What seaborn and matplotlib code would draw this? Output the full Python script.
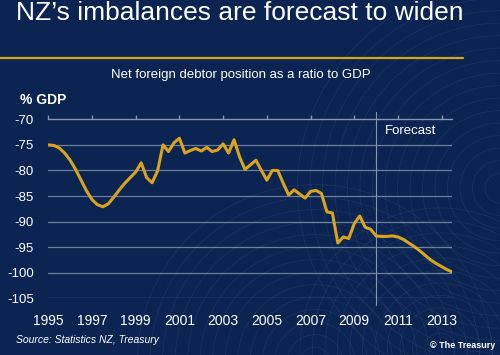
import numpy as np
import pandas as pd
import seaborn as sns
import matplotlib.pyplot as plt
from matplotlib.patches import Circle

# Quarterly net foreign debtor position, % of GDP (1995Q1 - 2013Q3)
quarters = np.arange(1995.0, 2013.51, 0.25)
debt_ratio = [
    -75.0, -75.1, -75.6, -76.6, -78.0, -79.8, -81.9, -84.0,
    -85.7, -86.7, -87.1, -86.5, -85.2, -83.8, -82.5, -81.4,
    -80.3, -78.5, -81.4, -82.4, -80.1, -75.0, -76.3, -74.6,
    -73.7, -76.6, -76.1, -75.7, -76.2, -75.5, -76.3, -76.0,
    -74.8, -76.6, -74.0, -77.3, -79.8, -78.9, -78.0, -80.0,
    -81.9, -80.0, -80.0, -82.5, -84.8, -83.8, -84.6, -85.4,
    -84.1, -83.9, -84.5, -88.1, -88.3, -94.2, -93.0, -93.3,
    -90.4, -88.9, -91.1, -91.5, -92.8, -92.9, -92.9, -92.8,
    -93.0, -93.5, -94.2, -94.9, -95.7, -96.6, -97.5, -98.2,
    -98.8, -99.4, -99.9,
]
year_ticks = [1995, 1997, 1999, 2001, 2003, 2005, 2007, 2009, 2011, 2013]
pct_ticks = [-70, -75, -80, -85, -90, -95, -100, -105]
forecast_start = 2010.0

df = pd.DataFrame({"year": quarters, "pct": debt_ratio})

bg = "#0b2452"
gold = "#d9a41c"
grid = "#8795b0"

sns.set_style("dark", {"axes.facecolor": bg, "figure.facecolor": bg})
plt.rcParams["font.family"] = ["Liberation Sans", "DejaVu Sans"]
plt.rcParams["axes.unicode_minus"] = False

fig = plt.figure(figsize=(5, 3.55), dpi=100)
fig.patch.set_facecolor(bg)

# faint concentric rings in the background
for cx, cy, rmax in [(1.0, 0.47, 0.42), (0.63, -0.02, 0.36), (0.88, 0.02, 0.3)]:
    for r in np.arange(0.03, rmax, 0.025):
        fig.patches.append(Circle((cx * 500, cy * 355), r * 500, transform=None,
                                  fill=False, lw=0.6, ec="white", alpha=0.06))

ax = fig.add_axes([0.0966, 0.1597, 0.8068, 0.5042])
ax.set_facecolor("none")

sns.lineplot(data=df, x="year", y="pct", color=gold, lw=2.2, ax=ax, zorder=5)

ax.set_xlim(1995, 2013.46)
ax.set_ylim(-105, -70)
ax.set_xticks(year_ticks)
ax.set_yticks(pct_ticks)
ax.set_xlabel("")
ax.set_ylabel("")

for v in pct_ticks[1:]:
    ax.axhline(v, color=grid, lw=0.9, alpha=0.8, zorder=1)
ax.grid(False)

for s in ["left", "right", "bottom"]:
    ax.spines[s].set_visible(False)
ax.spines["top"].set_visible(True)
ax.spines["top"].set_color(grid)
ax.spines["top"].set_linewidth(1.0)

ax.tick_params(axis="x", top=True, bottom=False, labeltop=False, labelbottom=True,
               direction="out", length=3, color=grid, width=1.0, pad=8,
               labelsize=10, labelcolor="white")
ax.tick_params(axis="y", left=False, labelsize=9.5, labelcolor="white", pad=7)

# forecast divider
ax.plot([forecast_start, forecast_start], [-106.3, -68.5], color=grid, lw=0.8,
        clip_on=False, zorder=2)
ax.text(forecast_start + 0.4, -72.2, "Forecast", color="white", fontsize=9.5,
        va="center", ha="left")

fig.text(0.032, 0.962, "NZ\u2019s imbalances are forecast to widen", color="white",
         fontsize=19, va="center", ha="left")
fig.add_artist(plt.Line2D([0, 0.926], [0.837, 0.837], color=gold, lw=1.6))
fig.text(0.482, 0.79, "Net foreign debtor position as a ratio to GDP", color="white",
         fontsize=9.5, va="center", ha="center")
fig.text(0.04, 0.718, "% GDP", color="white", fontsize=10, fontweight="bold",
         va="center", ha="left")
fig.text(0.032, 0.042, "Source: Statistics NZ, Treasury", color="white",
         fontsize=7.5, style="italic", va="center", ha="left")
fig.text(0.99, 0.026, "\u00a9 The Treasury", color="white", fontsize=6.5,
         fontweight="bold", va="center", ha="right")

fig.savefig("out.png", dpi=100, facecolor=bg)
